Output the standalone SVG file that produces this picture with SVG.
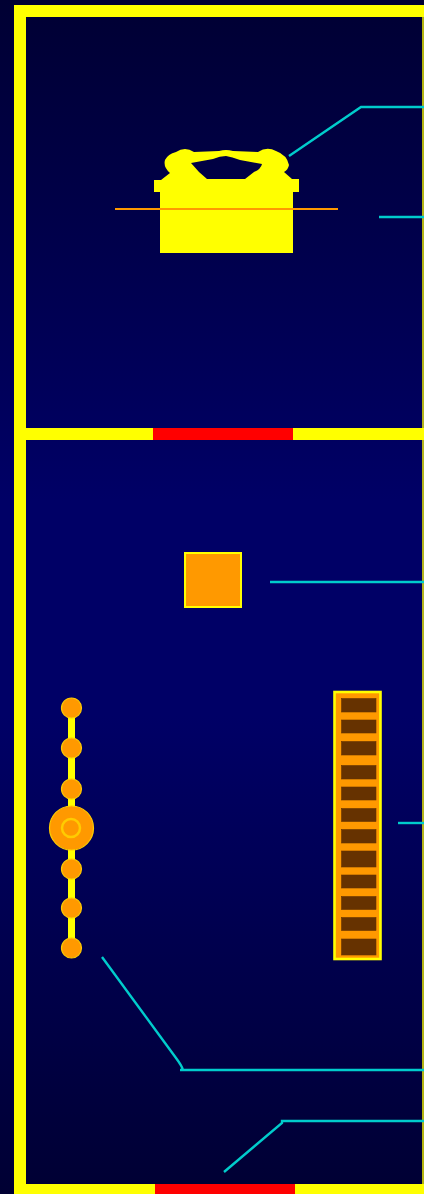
<svg xmlns="http://www.w3.org/2000/svg" width="424" height="1194" viewBox="0 0 424 1194">
<style>
.wall{fill:#ffff00}
.door{fill:#ff0000}
.leader{fill:none;stroke:#00cccc;stroke-width:2.4}
.part{fill:#ff9900;stroke:#ffff00;stroke-width:2}
.bead{fill:#ff9900;stroke:#ffcc00;stroke-width:1.2}
.bar{fill:#663300;stroke:#663300;stroke-width:0.6}
</style>
<defs>
<linearGradient id="bg" x1="0" y1="0" x2="0" y2="1">
<stop offset="0" stop-color="#000033"/>
<stop offset="0.42" stop-color="#000066"/>
<stop offset="0.6" stop-color="#000066"/>
<stop offset="1" stop-color="#000033"/>
</linearGradient>
<filter id="soft" x="-2%" y="-2%" width="104%" height="104%"><feGaussianBlur stdDeviation="0.7"/></filter>
</defs>
<rect width="424" height="1194" fill="url(#bg)"/>
<g filter="url(#soft)">
<g id="walls">
<rect class="wall" x="14" y="5" width="412" height="12"/>
<rect class="wall" x="14" y="5" width="12" height="1191"/>
<rect class="wall" x="26" y="428" width="400" height="12"/>
<rect class="wall" x="14" y="1184" width="412" height="12"/>
<rect x="422" y="5" width="4" height="1191" fill="#ffff00" opacity="0.7"/>
</g>
<g id="door-upper"><rect class="door" x="153" y="428" width="140" height="12"/></g>
<g id="door-lower"><rect class="door" x="155" y="1184" width="140" height="12"/></g>
<g id="connectors">
<path class="leader" d="M289 156L361 107H424"/>
<path class="leader" d="M379 217H424"/>
<path class="leader" d="M270 582H424"/>
<path class="leader" d="M398 823H424"/>
<path class="leader" d="M102 957L176 1058Q182 1066 183 1070M180 1070H424"/>
<path class="leader" d="M224 1172L282 1123V1121H424"/>
</g>
<g id="ark">
<path fill="#ffff00" fill-rule="evenodd" d="M160 253V192H154V180H161L170 173Q163 167 165 160Q168 154 176 152Q185 146 194 152L219 151Q226 149 233 151L258 152Q267 146 276 151Q287 155 289 165Q288 170 284 172L292 179H299V192H293V253ZM191 163L213 159Q220 156 226 156Q232 157 240 160L262 164Q261 169 254 172L245 179H207L199 172Z"/>
<path d="M115 209H338" fill="none" stroke="#ff9900" stroke-width="2"/>
</g>
<g id="square"><rect class="part" x="185" y="553" width="56" height="54"/></g>
<g id="chain">
<path d="M71.5 708V948" stroke="#ffff00" stroke-width="7" fill="none"/>
<circle class="bead" cx="71.5" cy="708" r="10"/>
<circle class="bead" cx="71.5" cy="748" r="10"/>
<circle class="bead" cx="71.500" cy="789" r="10"/>
<circle class="bead" cx="71.5" cy="869" r="10"/>
<circle class="bead" cx="71.5" cy="908" r="10"/>
<circle class="bead" cx="71.5" cy="948" r="10"/>
<circle class="bead" cx="71.5" cy="828" r="22"/>
<circle class="bead" cx="71" cy="828" r="9" style="stroke-width:2.5"/>
</g>
<g id="ladder">
<rect class="part" x="334.5" y="692" width="46" height="267" style="stroke-width:2.6"/>
<rect class="bar" x="341.5" y="698.5" width="34.500" height="13.500"/>
<rect class="bar" x="341.5" y="720" width="34.500" height="13"/>
<rect class="bar" x="341.5" y="741.500" width="34.500" height="13.500"/>
<rect class="bar" x="341.5" y="765.500" width="34.500" height="13.500"/>
<rect class="bar" x="341.5" y="787" width="34.500" height="13"/>
<rect class="bar" x="341.5" y="808.500" width="34.500" height="13"/>
<rect class="bar" x="341.5" y="829.500" width="34.500" height="13.500"/>
<rect class="bar" x="341.5" y="851" width="34.500" height="16"/>
<rect class="bar" x="341.5" y="875" width="34.500" height="13"/>
<rect class="bar" x="341.5" y="896.500" width="34.500" height="13"/>
<rect class="bar" x="341.5" y="917.500" width="34.500" height="13"/>
<rect class="bar" x="341.5" y="939" width="34.500" height="16"/>
</g>
</g>
</svg>
